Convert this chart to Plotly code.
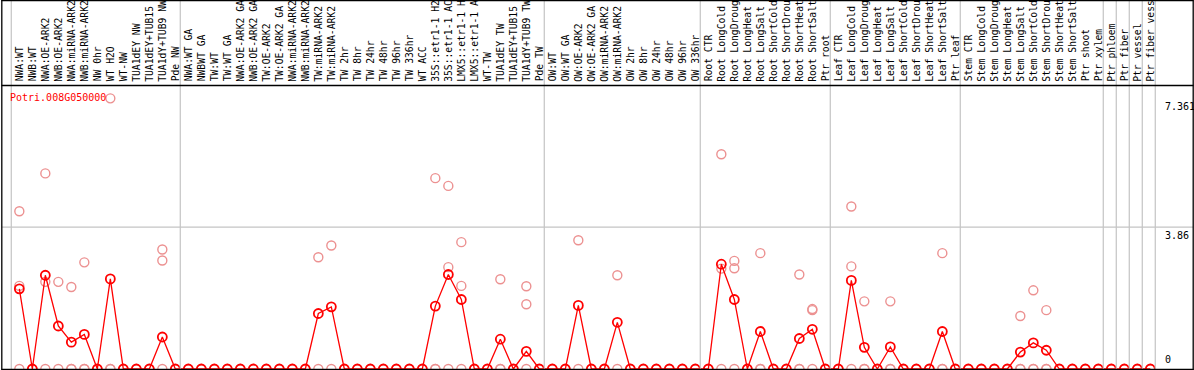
import plotly.graph_objects as go

gene = "Potri.008G050000"

labels = [
    "NWA:WT", "NWB:WT", "NWA:OE-ARK2", "NWB:OE-ARK2", "NWA:miRNA-ARK2", "NWB:miRNA-ARK2",
    "NW 0hr", "WT H2O", "WT-NW", "TUA1dEY NW", "TUA1dEY+TUB15", "TUA1dY+TUB9 NW", "Pde NW",
    "NWA:WT GA", "NWBWT GA", "TW:WT", "TW:WT GA", "NWA:OE-ARK2 GA", "NWB:OE-ARK2 GA",
    "TW:OE-ARK2", "TW:OE-ARK2 GA", "NWA:miRNA-ARK2", "NWB:miRNA-ARK2", "TW:miRNA-ARK2",
    "TW:miRNA-ARK2", "TW 2hr", "TW 8hr", "TW 24hr", "TW 48hr", "TW 96hr", "TW 336hr",
    "WT ACC", "35S::etr1-1 H2", "35S::etr1-1 AC", "LMX5::etr1-1 H", "LMX5::etr1-1 A",
    "WT-TW", "TUA1dEY TW", "TUA1dEY+TUB15", "TUA1dY+TUB9 TW", "Pde TW",
    "OW:WT", "OW:WT GA", "OW:OE-ARK2", "OW:OE-ARK2 GA", "OW:miRNA-ARK2", "OW:miRNA-ARK2",
    "OW 2hr", "OW 8hr", "OW 24hr", "OW 48hr", "OW 96hr", "OW 336hr",
    "Root CTR", "Root LongCold", "Root LongDroug", "Root LongHeat", "Root LongSalt",
    "Root ShortCold", "Root ShortDrou", "Root ShortHeat", "Root ShortSalt", "Ptr root",
    "Leaf CTR", "Leaf LongCold", "Leaf LongDroug", "Leaf LongHeat", "Leaf LongSalt",
    "Leaf ShortCold", "Leaf ShortDrou", "Leaf ShortHeat", "Leaf ShortSalt", "Ptr leaf",
    "Stem CTR", "Stem LongCold", "Stem LongDroug", "Stem LongHeat", "Stem LongSalt",
    "Stem ShortCold", "Stem ShortDrou", "Stem ShortHeat", "Stem ShortSalt", "Ptr shoot",
    "Ptr xylem", "Ptr phloem", "Ptr fiber", "Ptr vessel", "Ptr fiber vess",
]

# group boundaries (number of columns before each separator line)
group_breaks = [0, 13, 41, 53, 63, 73, 84, 85, 86, 87, 88]

means = [0.0] * len(labels)
mean_values = {
    0: 2.18, 2: 2.55, 3: 1.17, 4: 0.73, 5: 0.94, 7: 2.45, 11: 0.87,
    23: 1.51, 24: 1.69, 32: 1.71, 33: 2.57, 34: 1.89, 37: 0.81, 39: 0.48,
    43: 1.73, 46: 1.27, 54: 2.85, 55: 1.89, 57: 1.02, 60: 0.83, 61: 1.08,
    64: 2.41, 65: 0.59, 67: 0.60, 71: 1.02, 77: 0.46, 78: 0.71, 79: 0.51,
}
for k, v in mean_values.items():
    means[k] = v

replicates = {
    0: [4.29, 2.26, 0], 2: [5.32, 2.37, 0], 3: [2.37, 0], 4: [2.23, 0, 0],
    5: [2.90, 0, 0], 7: [7.361, 0, 0], 11: [3.25, 2.95, 0], 23: [3.04, 0],
    24: [3.36, 0], 32: [5.19, 0, 0], 33: [4.98, 2.77, 0], 34: [3.45, 2.26, 0],
    37: [2.44, 0, 0], 39: [2.25, 1.76, 0], 43: [3.50, 0], 46: [2.55, 0],
    54: [5.84, 2.73, 0], 55: [2.94, 2.74, 0], 57: [3.15, 0, 0], 60: [2.57, 0, 0],
    61: [1.63, 1.60, 0], 64: [4.42, 2.79, 0], 65: [1.84, 0, 0], 67: [1.84, 0, 0],
    71: [3.15, 0, 0], 77: [1.44, 0, 0], 78: [2.14, 0, 0], 79: [1.60, 0, 0],
}

ytick_vals = [7.361, 3.86, 0]
ytick_text = ["7.361", "3.86", "0"]

W, H = 1194, 370
X0, DX = 19.33, 13.0          # pixel centre of first column, column pitch
Y0, DY = 369.0, 36.77         # pixel of value 0, pixels per unit

xr = [-X0 / DX, (W - X0) / DX]
yr = [(Y0 - H) / DY, Y0 / DY]

xs = list(range(len(labels)))
rep_x, rep_y = [], []
for i in xs:
    for v in replicates.get(i, [0]):
        rep_x.append(i)
        rep_y.append(v)

fig = go.Figure()
fig.add_trace(go.Scatter(
    x=rep_x, y=rep_y, mode="markers", cliponaxis=False,
    marker=dict(symbol="circle-open", size=9, color="rgb(236,145,145)",
                line=dict(width=1.4, color="rgb(236,145,145)")),
    hoverinfo="skip", showlegend=False))
fig.add_trace(go.Scatter(
    x=xs, y=means, mode="lines+markers", cliponaxis=False,
    line=dict(color="#ff0000", width=1.3),
    marker=dict(symbol="circle-open", size=9, color="#ff0000",
                line=dict(width=1.8, color="#ff0000")),
    showlegend=False))

shapes = []
gray = "#c4c4c4"
for k in group_breaks:
    shapes.append(dict(type="line", xref="x", yref="paper", x0=k - 0.62, x1=k - 0.62,
                       y0=0, y1=1, line=dict(color=gray, width=1.2)))
shapes.append(dict(type="line", xref="paper", yref="y", x0=2 / W, x1=1193 / W,
                   y0=3.86, y1=3.86, line=dict(color=gray, width=1.2)))
black = "#000000"
def hline(py):
    return dict(type="line", xref="paper", yref="paper", x0=1.5 / W, x1=1193.5 / W,
                y0=1 - py / H, y1=1 - py / H, line=dict(color=black, width=1.3))
def vline(px, py0, py1):
    return dict(type="line", xref="paper", yref="paper", x0=px / W, x1=px / W,
                y0=1 - py0 / H, y1=1 - py1 / H, line=dict(color=black, width=1.3))
shapes += [hline(0.6), hline(85.5), hline(369.3), vline(1.8, 0, 370), vline(1193.2, 0, 370)]

annotations = []
for i, lab in enumerate(labels):
    annotations.append(dict(x=i, xref="x", y=1 - 83.5 / H, yref="paper", text=lab,
                            textangle=-90, showarrow=False, xanchor="center", yanchor="bottom",
                            font=dict(family="DejaVu Sans Mono", size=9.7, color="black")))
annotations.append(dict(x=8 / W, xref="paper", y=1 - 97 / H, yref="paper", text=gene,
                        showarrow=False, xanchor="left", yanchor="middle",
                        font=dict(family="DejaVu Sans Mono", size=10, color="#ff0000")))
for v, t in zip(ytick_vals, ytick_text):
    annotations.append(dict(x=1163 / W, xref="paper", y=v, yref="y", text=t,
                            showarrow=False, xanchor="left",
                            yanchor="bottom" if v == 0 else "top",
                            yshift=2 if v == 0 else -1,
                            font=dict(family="DejaVu Sans Mono", size=10, color="black")))

fig.update_layout(
    width=W, height=H, margin=dict(l=0, r=0, t=0, b=0),
    paper_bgcolor="white", plot_bgcolor="white",
    xaxis=dict(range=xr, visible=False, domain=[0, 1]),
    yaxis=dict(range=yr, visible=False, domain=[0, 1]),
    shapes=shapes, annotations=annotations,
)
fig.write_html("out.html", config={"displayModeBar": False},
               post_script="document.body.style.margin='0';document.body.style.overflow='hidden';")
